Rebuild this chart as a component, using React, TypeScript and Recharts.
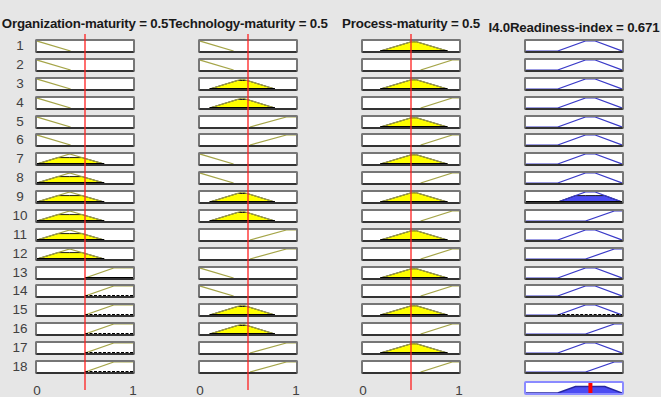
import React from 'react';
import { ComposedChart, Line, Area, XAxis, YAxis, ReferenceLine } from 'recharts';

const inputTitles = ['Organization-maturity', 'Technology-maturity', 'Process-maturity'];
const outputTitle = 'I4.0Readiness-index';
const inputValues = [0.5, 0.5, 0.5];
const outputValue = 0.671;
const axisTicks = [0, 1];

const ruleIds = [1, 2, 3, 4, 5, 6, 7, 8, 9, 10, 11, 12, 13, 14, 15, 16, 17, 18];

const orgTerms = ['low', 'low', 'low', 'low', 'low', 'low', 'medium', 'medium', 'medium', 'medium', 'medium', 'medium', 'high', 'high', 'high', 'high', 'high', 'high'];
const techTerms = ['low', 'low', 'medium', 'medium', 'high', 'high', 'low', 'low', 'medium', 'medium', 'high', 'high', 'low', 'low', 'medium', 'medium', 'high', 'high'];
const procTerms = ['medium', 'high', 'medium', 'high', 'medium', 'high', 'medium', 'high', 'medium', 'high', 'medium', 'high', 'medium', 'high', 'medium', 'high', 'medium', 'high'];
const outTerms = ['medium', 'medium', 'medium', 'medium', 'medium', 'medium', 'medium', 'medium', 'medium', 'high', 'medium', 'high', 'medium', 'medium', 'medium', 'high', 'medium', 'high'];

// membership functions as [x, mu] breakpoints
const orgMfs: Record<string, number[][]> = {
  low: [[0, 1], [0.35, 0]],
  medium: [[0, 0], [0.34, 1], [0.7, 0]],
  high: [[0.5, 0], [0.8, 1], [1, 1]],
};
const techMfs: Record<string, number[][]> = {
  low: [[0, 1], [0.35, 0]],
  medium: [[0.1, 0], [0.44, 1], [0.78, 0]],
  high: [[0.52, 0], [0.9, 1], [1, 1]],
};
const procMfs: Record<string, number[][]> = {
  medium: [[0.18, 0], [0.53, 1], [0.88, 0]],
  high: [[0.6, 0], [0.93, 1], [1, 1]],
};
const outMfs: Record<string, number[][]> = {
  medium: [[0, 0], [0.33, 0], [0.62, 1], [0.72, 1], [1, 0]],
  high: [[0, 0], [0.62, 0], [0.92, 1], [1, 1]],
};

// membership degrees of the inputs (read from the clipped shapes)
const orgDegrees: Record<string, number> = { low: 0, medium: 0.64, high: 0 };
const techDegrees: Record<string, number> = { low: 0, medium: 0.85, high: 0 };
const procDegrees: Record<string, number> = { medium: 0.92, high: 0 };

const dashedZeroOrg = [14, 15, 16, 17, 18];
const zeroOutRules = [15];

const BG = '#e6e6e6';
const OLIVE = '#a5a548';
const BLUE_LINE = '#3a3ac8';
const BLUE_FILL = '#4c4cf2';

const COL_LEFT = 35;
const COL_STEP = 163;
const BOX_W = 100;
const BOX_H = 14;
const ROW_TOP = 39;
const ROW_STEP = 18.88;
const BORDER = 2;
const innerW = BOX_W - BORDER * 2;
const innerH = BOX_H - BORDER * 2;

const toPts = (p: number[][]) => p.map(([x, y]) => ({ x, y }));

function clip(p: number[][], level: number) {
  const out: { x: number; y: number }[] = [];
  for (let i = 0; i < p.length; i++) {
    const [x, y] = p[i];
    if (i > 0) {
      const [px, py] = p[i - 1];
      if ((py - level) * (y - level) < 0) {
        const t = (level - py) / (y - py);
        out.push({ x: px + t * (x - px), y: level });
      }
    }
    out.push({ x, y: Math.min(y, level) });
  }
  return out;
}

const ruleStrength = ruleIds.map((_, i) =>
  Math.min(orgDegrees[orgTerms[i]], techDegrees[techTerms[i]], procDegrees[procTerms[i]])
);

type CellProps = {
  mf: number[][];
  level: number;
  kind: 'in' | 'out';
  zeroBase?: 'solid' | 'dashed' | null;
};

function Cell({ mf, level, kind, zeroBase }: CellProps) {
  const fired = level > 0;
  const clipped = fired ? clip(mf, level) : [];
  const lo = mf[0][0];
  const hi = mf[mf.length - 1][0];
  const baseStart =
    kind === 'out'
      ? mf.find((p, i) => i > 0 && p[1] === 0 && mf[i + 1] && mf[i + 1][1] > 0)?.[0] ?? lo
      : lo;
  const base = [{ x: fired ? clipped[0].x : baseStart, y: 0 }, { x: hi, y: 0 }];
  const lineColor = kind === 'in' ? OLIVE : BLUE_LINE;
  return (
    <ComposedChart width={innerW} height={innerH} margin={{ top: 0, right: 0, bottom: 0, left: 0 }}>
      <XAxis type="number" dataKey="x" domain={[0, 1]} hide />
      <YAxis type="number" domain={[0, 1]} hide />
      <Line data={toPts(mf)} dataKey="y" type="linear" stroke={lineColor} strokeWidth={1.2} dot={false} isAnimationActive={false} />
      {fired && (
        <Area data={clipped} dataKey="y" type="linear" baseValue={0} fill={kind === 'in' ? '#ffff00' : BLUE_FILL} fillOpacity={1} stroke="#1a1a1a" strokeWidth={1} isAnimationActive={false} />
      )}
      {(fired || zeroBase) && (
        <Line data={base} dataKey="y" type="linear" stroke="#000" strokeWidth={2} strokeDasharray={zeroBase === 'dashed' ? '3 1.5' : undefined} dot={false} isAnimationActive={false} />
      )}
    </ComposedChart>
  );
}

const TickLabel = (props: any) => {
  const { x, y, payload } = props;
  return (
    <text x={x} y={y} dy={4.5} textAnchor="middle" fontSize={13.5} fill="#404040" fontFamily="'Liberation Sans', Arial, sans-serif">
      {payload.value}
    </text>
  );
};

function Box({ col, top, children, border }: { col: number; top: number; children: React.ReactNode; border?: string }) {
  return (
    <div
      style={{
        position: 'absolute',
        left: COL_LEFT + COL_STEP * col,
        top,
        width: BOX_W,
        height: BOX_H,
        boxSizing: 'border-box',
        border: `${BORDER}px solid ${border ?? '#767676'}`,
        borderBottomColor: border ?? '#333',
        borderRadius: 2,
        background: '#fff',
        overflow: 'hidden',
      }}
    >
      {children}
    </div>
  );
}

export default function App() {
  const font = "'Liberation Sans', Arial, sans-serif";
  const inputMfs = [orgMfs, techMfs, procMfs];
  const inputTerms = [orgTerms, techTerms, procTerms];
  const inputDegrees = [orgDegrees, techDegrees, procDegrees];
  const strongest = ruleStrength.indexOf(Math.max(...ruleStrength));
  const aggregate = clip(outMfs[outTerms[strongest]], ruleStrength[strongest]);
  const aggTop = ROW_TOP + ROW_STEP * 18 + 2;

  return (
    <div style={{ position: 'absolute', left: 0, top: 0, width: 661, height: 397, background: BG, fontFamily: font, overflow: 'hidden' }}>
      {/* titles */}
      {[...inputTitles, outputTitle].map((t, c) => {
        const val = c < 3 ? inputValues[c] : outputValue;
        return (
          <div
            key={t}
            style={{
              position: 'absolute',
              left: COL_LEFT + COL_STEP * c + BOX_W / 2 - 120,
              width: 240,
              top: c < 3 ? 16 : 20,
              textAlign: 'center',
              fontWeight: 'bold',
              fontSize: 13.3,
              lineHeight: '16px',
              letterSpacing: -0.2,
              color: '#1a1a1a',
              whiteSpace: 'nowrap',
            }}
          >
            {`${t} = ${val}`}
          </div>
        );
      })}

      {/* rule numbers */}
      {ruleIds.map((r, i) => (
        <div
          key={r}
          style={{
            position: 'absolute',
            left: 0,
            width: 40,
            top: ROW_TOP + ROW_STEP * i,
            height: BOX_H,
            lineHeight: `${BOX_H}px`,
            textAlign: 'center',
            fontSize: 13.5,
            color: '#404040',
          }}
        >
          {r}
        </div>
      ))}

      {/* input cells */}
      {inputMfs.map((mfs, c) =>
        ruleIds.map((r, i) => {
          const term = inputTerms[c][i];
          const mf = mfs[term];
          const level = inputDegrees[c][term];
          const lo = mf[0][0];
          const hi = mf[mf.length - 1][0];
          const v = inputValues[c];
          const onEdge = level === 0 && v >= lo && v <= hi;
          const zeroBase = onEdge ? (c === 0 && dashedZeroOrg.includes(r) ? 'dashed' : 'solid') : null;
          return (
            <Box key={`${c}-${r}`} col={c} top={ROW_TOP + ROW_STEP * i}>
              <Cell mf={mf} level={level} kind="in" zeroBase={zeroBase} />
            </Box>
          );
        })
      )}

      {/* output cells */}
      {ruleIds.map((r, i) => (
        <Box key={`o-${r}`} col={3} top={ROW_TOP + ROW_STEP * i}>
          <Cell
            mf={outMfs[outTerms[i]]}
            level={ruleStrength[i]}
            kind="out"
            zeroBase={zeroOutRules.includes(r) ? 'dashed' : null}
          />
        </Box>
      ))}

      {/* aggregated output */}
      <Box col={3} top={aggTop} border="#8a8aff">
        <ComposedChart width={innerW} height={innerH} margin={{ top: 0, right: 0, bottom: 0, left: 0 }}>
          <XAxis type="number" dataKey="x" domain={[0, 1]} hide />
          <YAxis type="number" domain={[0, 1]} hide />
          <Area data={aggregate} dataKey="y" type="linear" baseValue={0} fill={BLUE_FILL} fillOpacity={1} stroke="#2626a0" strokeWidth={1.5} isAnimationActive={false} />
          <ReferenceLine x={outputValue} stroke="#ff0000" strokeWidth={4} />
        </ComposedChart>
      </Box>

      {/* input value lines and 0/1 ticks */}
      {inputValues.map((v, c) => (
        <div
          key={`v-${c}`}
          style={{ position: 'absolute', left: COL_LEFT + COL_STEP * c + BORDER - 12, top: 34, pointerEvents: 'none' }}
        >
          <ComposedChart
            width={innerW + 24}
            height={363}
            margin={{ top: 0, right: 12, bottom: 0, left: 12 }}
            data={[{ x: 0, y: 0 }, { x: 1, y: 1 }]}
          >
            <XAxis
              type="number"
              dataKey="x"
              domain={[0, 1]}
              ticks={axisTicks}
              axisLine={false}
              tickLine={false}
              tickSize={0}
              tickMargin={0}
              height={7}
              interval={0}
              tick={<TickLabel />}
            />
            <YAxis type="number" dataKey="y" domain={[0, 1]} hide />
            <Line dataKey="y" stroke="none" dot={false} activeDot={false} isAnimationActive={false} />
            <ReferenceLine x={v} stroke="#ff2020" strokeWidth={1.3} />
          </ComposedChart>
        </div>
      ))}
    </div>
  );
}
